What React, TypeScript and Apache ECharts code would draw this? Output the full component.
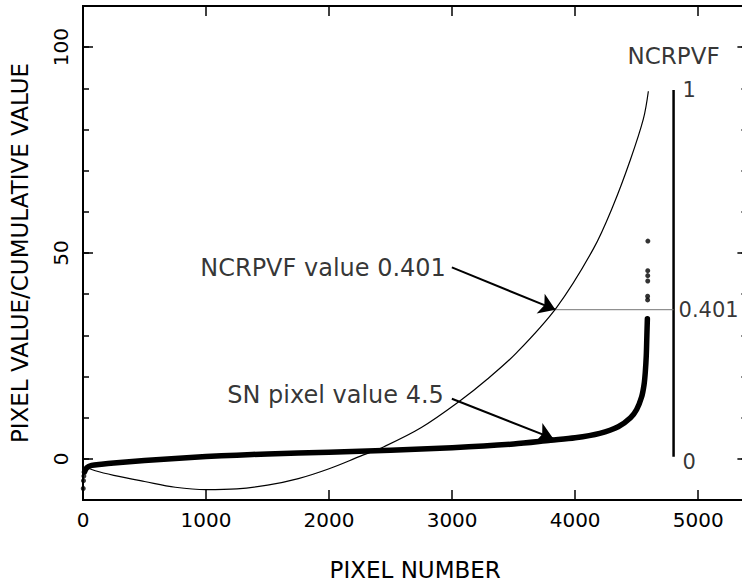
import React, { useEffect, useRef } from "react";
import * as echarts from "echarts";

// ---- data ----
const xTickValues = [0, 1000, 2000, 3000, 4000, 5000];
const yLabelValues = [0, 50, 100];

// dense sorted pixel values (drawn as a thick band)
const bandPixel = [12, 30, 70, 150, 250, 500, 750, 1000, 1250, 1500, 2000, 2500, 3000, 3500, 3800, 4000, 4200, 4350, 4450, 4500, 4540, 4560, 4570, 4578, 4583, 4587];
const bandValue = [-3.2, -2.2, -1.6, -1.3, -1.0, -0.4, 0.1, 0.55, 0.9, 1.2, 1.6, 2.1, 2.7, 3.6, 4.5, 5.1, 6.2, 7.8, 10, 12, 15, 18, 21, 25, 30, 34];

// isolated pixels at the two ends
const sparsePixel = [2, 4, 7, 4589, 4589, 4590, 4590, 4590, 4591];
const sparseValue = [-7.2, -5.3, -4.2, 38.6, 39.5, 43.2, 44.5, 45.7, 52.9];

// cumulative (NCRPVF) curve
const cumPixel = [20, 100, 250, 500, 750, 1000, 1250, 1500, 1750, 2000, 2250, 2450, 2750, 3065, 3280, 3525, 3850, 4148, 4310, 4446, 4554, 4595];
const cumValue = [-2.0, -2.9, -4.0, -5.5, -6.9, -7.5, -7.3, -6.4, -4.8, -2.4, 0.6, 3.0, 7.6, 14.1, 19.2, 25.8, 36.8, 51.0, 61.6, 72.4, 82.5, 89.3];

// NCRPVF scale bar
const SCALE_PIXEL = 4800;
const SCALE_BOTTOM = 0.5;
const SCALE_TOP = 89.6;
const NCRPVF_VALUE = 0.401;
const NCRPVF_PIXEL = 3840;
const SN_VALUE = 4.5;
const SN_PIXEL = 3823;
const ARROW_TAIL_PIXEL = 2998;
const ARROW1_TAIL_VALUE = 46.5;
const ARROW2_TAIL_VALUE = 14.6;

const FONT = "DejaVu Sans";

export default function App() {
  const ref = useRef<HTMLDivElement>(null);

  useEffect(() => {
    if (!ref.current) return;
    const chart = echarts.init(ref.current, undefined, { renderer: "svg" });
    const level = SCALE_BOTTOM + NCRPVF_VALUE * (SCALE_TOP - SCALE_BOTTOM);
    const black = "#000";
    const xBase = {
      type: "value",
      min: 0,
      max: 5400,
      interval: 1000,
      splitLine: { show: false },
      axisLine: { onZero: false, lineStyle: { color: black, width: 2 } },
      axisTick: { inside: true, length: 10, lineStyle: { color: black, width: 1.5 } },
    };
    const yMinor = {
      type: "value",
      min: -10,
      max: 110,
      interval: 10,
      offset: 0,
      splitLine: { show: false },
      axisLine: { onZero: false, lineStyle: { color: black, width: 2 } },
      axisTick: { inside: true, length: 6, lineStyle: { color: black, width: 1.5 } },
      axisLabel: { show: false },
    };
    const yMajor = {
      type: "value",
      min: -10,
      max: 110,
      offset: 0,
      splitLine: { show: false },
      axisLine: { onZero: false, lineStyle: { color: black, width: 2 } },
      axisTick: { inside: true, length: 10, customValues: yLabelValues, lineStyle: { color: black, width: 1.5 } },
    };
    const lbl = (text: string, pos: string, dist: number, size: number, off: number[] = [0, 0]) => ({
      show: true,
      formatter: text,
      position: pos,
      distance: dist,
      offset: off,
      color: black,
      fontFamily: FONT,
      fontSize: size,
    });

    chart.setOption({
      animation: false,
      grid: { left: 82.7, top: 6, right: 12.6, height: 494.7 },
      xAxis: [
        {
          ...xBase,
          position: "bottom",
          name: "PIXEL NUMBER",
          nameLocation: "middle",
          nameGap: 58,
          nameTextStyle: { color: black, fontFamily: FONT, fontSize: 23 },
          axisLabel: {
            formatter: (v: number) => (xTickValues.indexOf(v) >= 0 ? String(v) : ""),
            showMaxLabel: false,
            color: black,
            fontFamily: FONT,
            fontSize: 20,
            margin: 10,
          },
        },
        { ...xBase, position: "top", axisLabel: { show: false } },
      ],
      yAxis: [
        { ...yMinor, position: "left" },
        {
          ...yMajor,
          position: "left",
          name: "PIXEL VALUE/CUMULATIVE VALUE",
          nameLocation: "middle",
          nameRotate: 90,
          nameGap: 52,
          nameTextStyle: { color: black, fontFamily: FONT, fontSize: 23 },
          axisLabel: {
            customValues: yLabelValues,
            rotate: 90,
            color: black,
            fontFamily: FONT,
            fontSize: 20,
            margin: 12,
          },
        },
        { ...yMinor, position: "right" },
        { ...yMajor, position: "right", axisLabel: { customValues: yLabelValues, formatter: () => "" } },
      ],
      series: [
        {
          type: "line",
          name: "cumulative",
          data: cumPixel.map((x, i) => [x, cumValue[i]]),
          smooth: 0.35,
          showSymbol: false,
          lineStyle: { color: black, width: 1.2 },
          silent: true,
          z: 2,
        },
        {
          type: "line",
          name: "pixels",
          data: bandPixel.map((x, i) => [x, bandValue[i]]),
          smooth: 0.3,
          showSymbol: false,
          lineStyle: { color: black, width: 5.5, cap: "round", join: "round" },
          silent: true,
          z: 3,
          markLine: {
            silent: true,
            symbol: ["none", "arrow"],
            symbolSize: 16,
            label: { show: false },
            emphasis: { disabled: true },
            lineStyle: { color: black, width: 2, type: "solid" },
            data: [
              [{ coord: [ARROW_TAIL_PIXEL, ARROW1_TAIL_VALUE] }, { coord: [NCRPVF_PIXEL, level] }],
              [{ coord: [ARROW_TAIL_PIXEL, ARROW2_TAIL_VALUE] }, { coord: [SN_PIXEL, SN_VALUE + 0.4] }],
            ],
          },
        },
        {
          type: "scatter",
          name: "sparse",
          data: sparsePixel.map((x, i) => [x, sparseValue[i]]),
          symbolSize: 5,
          itemStyle: { color: black },
          silent: true,
          z: 3,
        },
        {
          type: "line",
          name: "scale",
          data: [
            [SCALE_PIXEL, SCALE_BOTTOM],
            [SCALE_PIXEL, SCALE_TOP],
          ],
          showSymbol: false,
          lineStyle: { color: black, width: 2.5 },
          silent: true,
        },
        {
          type: "line",
          name: "level",
          data: [
            [NCRPVF_PIXEL, level],
            [SCALE_PIXEL, level],
          ],
          showSymbol: false,
          lineStyle: { color: "#777", width: 1 },
          silent: true,
        },
        {
          type: "scatter",
          name: "annotations",
          symbolSize: 0,
          silent: true,
          data: [
            { value: [ARROW_TAIL_PIXEL, ARROW1_TAIL_VALUE], label: lbl("NCRPVF value 0.401", "left", 6, 24, [0, 1]) },
            { value: [ARROW_TAIL_PIXEL, ARROW2_TAIL_VALUE], label: lbl("SN pixel value 4.5", "left", 8, 24, [0, -4]) },
            { value: [SCALE_PIXEL, SCALE_TOP], label: lbl("1", "right", 9, 21) },
            { value: [SCALE_PIXEL, SCALE_BOTTOM], label: lbl("0", "right", 9, 21, [0, 5]) },
            { value: [SCALE_PIXEL, level], label: lbl("0.401", "right", 5, 21) },
            { value: [SCALE_PIXEL, SCALE_TOP], label: lbl("NCRPVF", "top", 22, 23) },
          ],
        },
      ],
    });
    return () => chart.dispose();
  }, []);

  return (
    <div style={{ position: "fixed", left: 0, top: 0, width: 742, height: 586, overflow: "hidden", background: "#fff" }}>
      <div ref={ref} style={{ width: 760, height: 586 }} />
    </div>
  );
}
